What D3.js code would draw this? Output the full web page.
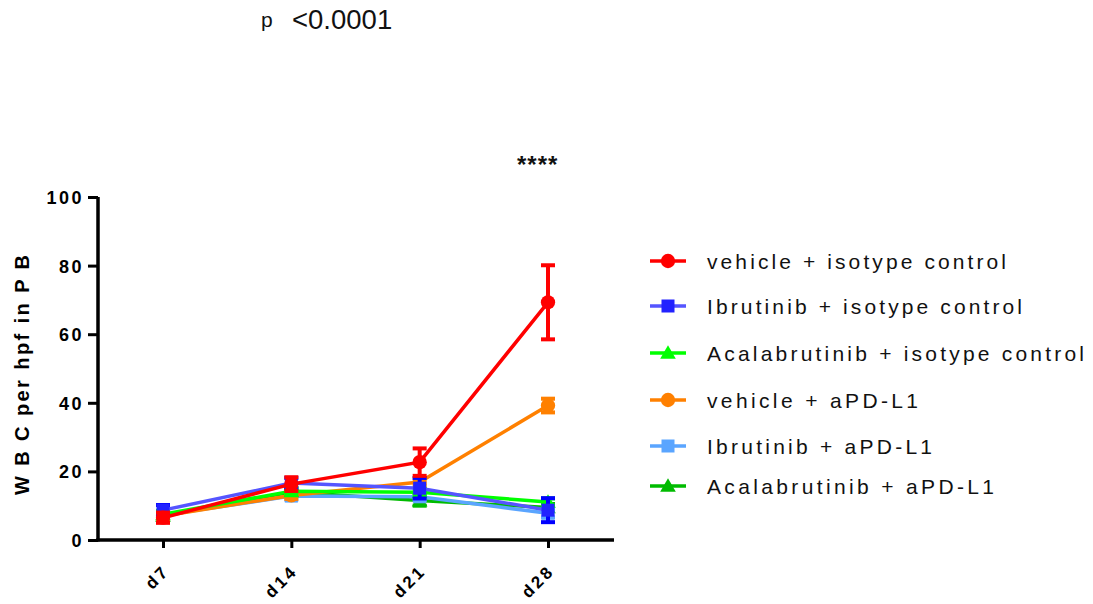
<!DOCTYPE html>
<html><head><meta charset="utf-8">
<script src="https://cdn.jsdelivr.net/npm/d3@7/dist/d3.min.js"></script>
<style>body{margin:0;background:#fff}svg{display:block}text{font-family:"Liberation Sans",Arial,sans-serif}</style>
</head><body>
<svg id="c" width="1093" height="604"></svg>
<script>
const days = ["d7","d14","d21","d28"];
const seriesNames = ["vehicle + isotype control","Ibrutinib + isotype control","Acalabrutinib + isotype control","vehicle + aPD-L1","Ibrutinib + aPD-L1","Acalabrutinib + aPD-L1"];
const vehIso = [6.5, 16.3, 22.7, 69.3];
const vehIsoErr = [1.5, 2.0, 4.0, 10.8];
const ibrIso = [8.7, 16.6, 15.1, 8.7];
const ibrIsoErr = [1.5, 1.5, 3.0, 3.5];
const acaIso = [7.5, 14.2, 13.9, 11.1];
const acaIsoErr = [1.0, 1.0, 1.0, 1.0];
const vehPd = [7.0, 13.0, 16.9, 39.2];
const vehPdErr = [1.0, 1.0, 1.0, 2.0];
const ibrPd = [7.2, 12.8, 12.6, 7.8];
const ibrPdErr = [1.0, 1.0, 1.0, 1.2];
const acaPd = [7.0, 14.0, 11.5, 9.5];
const acaPdErr = [1.0, 1.0, 1.5, 1.0];
const yTicks = [0,20,40,60,80,100];

const lineColors = ["#ff0000","#5555ff","#00ff00","#ff8000","#5aa5ff","#00bb00"];
const markColors = ["#ff0000","#2222ff","#00ff00","#ff8000","#5aa5ff","#00bb00"];
const errColors = ["#ff0000","#0000ff","#00ff00","#ff8000","#5aa5ff","#00bb00"];
const shapes = ["circle","square","triangle","circle","square","triangle"];
const values = [vehIso, ibrIso, acaIso, vehPd, ibrPd, acaPd];
const errs = [vehIsoErr, ibrIsoErr, acaIsoErr, vehPdErr, ibrPdErr, acaPdErr];

const svg = d3.select("#c");
const x = d3.scalePoint().domain(days).range([163, 548]);
const y = d3.scaleLinear().domain([0,100]).range([540, 197]);

// axes
const gy = svg.append("g").attr("transform","translate(98,0)")
  .call(d3.axisLeft(y).tickValues(yTicks).tickSize(10).tickSizeOuter(0).tickPadding(6));
gy.select(".domain").attr("stroke","#000").attr("stroke-width",3.5).attr("d","M0,197V541.5");
gy.selectAll(".tick line").attr("stroke","#000").attr("stroke-width",3);
gy.selectAll(".tick text").attr("font-size",18).attr("font-weight","bold").attr("fill","#000")
  .attr("letter-spacing",2.5).attr("dy","0.36em").attr("x",-14);

const gx = svg.append("g").attr("transform","translate(0,540)")
  .call(d3.axisBottom(x).tickSize(8).tickSizeOuter(0));
gx.select(".domain").attr("stroke","#000").attr("stroke-width",3.5).attr("d","M96.3,0H614");
gx.selectAll(".tick line").attr("stroke","#000").attr("stroke-width",3);
gx.selectAll(".tick text").attr("font-size",17).attr("font-weight","bold").attr("fill","#000")
  .attr("letter-spacing",3).attr("text-anchor","end").attr("dy",0).attr("y",0)
  .attr("transform","translate(7,32) rotate(-45)");

svg.append("text").attr("transform","translate(29,375) rotate(-90)")
  .attr("text-anchor","middle").attr("font-size",20).attr("font-weight","bold")
  .attr("textLength",240).attr("lengthAdjust","spacing").text("W B C per hpf in P B");

// symbol drawer
function drawMarker(g, shape, cx, cy, color, s){
  if(shape==="circle") g.append("circle").attr("cx",cx).attr("cy",cy).attr("r",s*0.55).attr("fill",color);
  else if(shape==="square") g.append("rect").attr("x",cx-s/2).attr("y",cy-s/2).attr("width",s).attr("height",s).attr("fill",color);
  else g.append("path").attr("d",`M${cx},${cy-s*0.6}L${cx+s*0.6},${cy+s*0.45}L${cx-s*0.6},${cy+s*0.45}Z`).attr("fill",color);
}

const line = d3.line().x((d,i)=>x(days[i])).y(d=>y(d));
for(let k=values.length-1;k>=0;k--){
  const g = svg.append("g");
  g.append("path").datum(values[k]).attr("d",line).attr("fill","none")
    .attr("stroke",lineColors[k]).attr("stroke-width",3.5);
  values[k].forEach((v,i)=>{
    const cx = x(days[i]), e = errs[k][i];
    const t = y(v+e), b = y(v-e);
    g.append("line").attr("x1",cx).attr("x2",cx).attr("y1",t).attr("y2",b).attr("stroke",errColors[k]).attr("stroke-width",4);
    g.append("line").attr("x1",cx-7).attr("x2",cx+7).attr("y1",t).attr("y2",t).attr("stroke",errColors[k]).attr("stroke-width",4);
    g.append("line").attr("x1",cx-7).attr("x2",cx+7).attr("y1",b).attr("y2",b).attr("stroke",errColors[k]).attr("stroke-width",4);
    drawMarker(g, shapes[k], cx, y(v), markColors[k], 13);
  });
}

// legend
const legY = [261, 306, 353, 400, 446, 486];
const legW = [299, 315, 377, 211, 225, 287];
seriesNames.forEach((n,k)=>{
  const g = svg.append("g");
  g.append("line").attr("x1",650).attr("x2",686).attr("y1",legY[k]).attr("y2",legY[k]).attr("stroke",lineColors[k]).attr("stroke-width",3.5);
  drawMarker(g, shapes[k], 668, legY[k], markColors[k], 13);
  g.append("text").attr("x",707).attr("y",legY[k]+8).attr("font-size",21).attr("fill","#111")
    .attr("textLength",legW[k]).attr("lengthAdjust","spacing").text(n);
});

// annotations
svg.append("text").attr("x",261).attr("y",27).attr("font-size",21).attr("fill","#111").text("p");
svg.append("text").attr("x",292).attr("y",29).attr("font-size",27.5).attr("fill","#111").text("<0.0001");
svg.append("text").attr("x",517).attr("y",173).attr("font-size",24).attr("font-weight","bold").attr("letter-spacing",1).attr("fill","#111").text("****");
</script>
</body></html>
